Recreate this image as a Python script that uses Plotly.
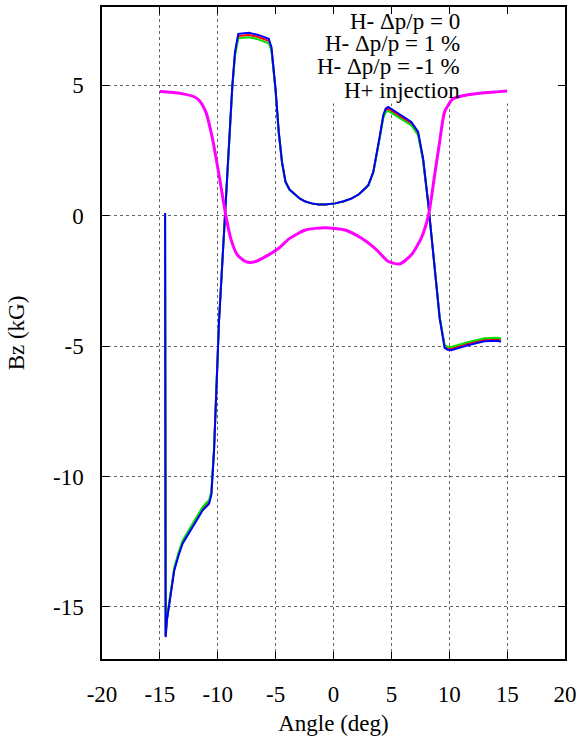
import plotly.graph_objects as go

# ---- data ----
angle_hm = [-14.55, -14.50, -14.40, -14.19, -14.00, -13.76, -13.40, -13.04, -12.60, -12.18,
            -11.75, -11.32, -11.00, -10.75, -10.55, -10.45, -10.32, -9.89, -9.37, -8.74,
            -8.51, -8.23, -7.31, -6.50, -5.59, -5.36, -5.01, -4.73, -4.45, -4.15,
            -3.80, -3.29, -2.90, -2.43, -1.90, -1.29, -0.71, 0.14, 0.90, 1.58,
            2.20, 2.72, 3.01, 3.44, 3.73, 4.01, 4.30, 4.50, 4.73, 5.59,
            6.73, 7.31, 7.74, 8.17, 8.60, 9.17, 9.60, 9.85, 10.17, 11.60,
            13.04, 14.19, 14.47]

bz_dp0 = [0.10, -16.12, -15.50, -14.82, -14.25, -13.56, -13.00, -12.53, -12.20, -11.90,
          -11.57, -11.25, -11.09, -10.99, -10.65, -10.06, -8.97, -4.03, 0.00, 4.95,
          6.20, 6.89, 6.93, 6.85, 6.70, 6.40, 4.84, 3.20, 2.05, 1.30,
          1.00, 0.79, 0.65, 0.54, 0.47, 0.43, 0.43, 0.47, 0.55, 0.66,
          0.82, 1.04, 1.17, 1.67, 2.30, 3.05, 3.80, 4.03, 4.10, 3.84,
          3.53, 3.15, 2.15, 0.53, -1.37, -3.90, -5.02, -5.09, -5.10, -4.91,
          -4.76, -4.74, -4.78]

bz_dp_plus1 = [0.10, -16.08, -15.45, -14.77, -14.20, -13.50, -12.94, -12.46, -12.13, -11.83,
               -11.50, -11.18, -11.02, -10.91, -10.58, -10.00, -8.93, -4.00, 0.00, 4.90,
               6.12, 6.80, 6.84, 6.76, 6.61, 6.33, 4.80, 3.18, 2.04, 1.29,
               0.99, 0.78, 0.65, 0.54, 0.47, 0.43, 0.43, 0.47, 0.55, 0.66,
               0.82, 1.03, 1.16, 1.65, 2.27, 3.01, 3.74, 3.96, 4.02, 3.77,
               3.46, 3.08, 2.11, 0.52, -1.35, -3.86, -4.96, -5.03, -5.04, -4.85,
               -4.70, -4.68, -4.72]

bz_dp_minus1 = [0.10, -16.16, -15.55, -14.87, -14.30, -13.61, -13.05, -12.58, -12.25, -11.96,
                -11.63, -11.31, -11.15, -11.05, -10.70, -10.10, -9.00, -4.05, 0.00, 5.00,
                6.27, 6.97, 7.01, 6.93, 6.78, 6.46, 4.87, 3.21, 2.06, 1.30,
                1.00, 0.79, 0.65, 0.54, 0.47, 0.43, 0.43, 0.47, 0.55, 0.66,
                0.82, 1.04, 1.17, 1.68, 2.32, 3.08, 3.85, 4.10, 4.17, 3.91,
                3.59, 3.21, 2.19, 0.54, -1.38, -3.93, -5.07, -5.14, -5.16, -4.97,
                -4.82, -4.80, -4.84]

angle_hp = [-15.0, -14.0, -13.0, -12.0, -11.61, -11.03, -10.46, -9.89, -9.31, -8.88,
            -8.31, -7.59, -6.88, -5.87, -4.73, -3.87, -2.43, -0.71, 1.00, 2.43,
            3.72, 4.73, 5.73, 6.73, 7.59, 8.20, 8.74, 9.17, 9.60, 10.32,
            11.32, 13.04, 15.0]
bz_hp = [4.76, 4.73, 4.67, 4.55, 4.42, 3.98, 2.96, 1.56, 0.03, -0.87,
         -1.50, -1.76, -1.78, -1.57, -1.25, -0.90, -0.55, -0.46, -0.55, -0.87,
         -1.31, -1.76, -1.85, -1.50, -0.85, 0.00, 1.56, 2.83, 3.98, 4.48,
         4.61, 4.71, 4.78]

series_names = ["H- \u0394p/p = 0", "H- \u0394p/p = 1 %", "H- \u0394p/p = -1 %", "H+ injection"]
x_ticks = [-20, -15, -10, -5, 0, 5, 10, 15, 20]
y_ticks = [-15, -10, -5, 0, 5]

FONT = "Liberation Serif"

fig = go.Figure()
fig.add_trace(go.Scatter(x=angle_hm, y=bz_dp0, mode="lines", name=series_names[0],
                         line=dict(color="#ff0000", width=2)))
fig.add_trace(go.Scatter(x=angle_hm, y=bz_dp_plus1, mode="lines", name=series_names[1],
                         line=dict(color="#00e000", width=2)))
fig.add_trace(go.Scatter(x=angle_hm, y=bz_dp_minus1, mode="lines", name=series_names[2],
                         line=dict(color="#0000ff", width=2)))
fig.add_trace(go.Scatter(x=angle_hp, y=bz_hp, mode="lines", name=series_names[3],
                         line=dict(color="#ff00ff", width=3, shape="spline", smoothing=0.6)))

# white key box hiding grid
fig.add_shape(type="rect", xref="x", yref="y", x0=-6.1, x1=20, y0=4.3, y1=8,
              fillcolor="white", line=dict(width=0), layer="between")

legend_y = [7.46, 6.60, 5.70, 4.80]
for name, yy in zip(series_names, legend_y):
    fig.add_annotation(x=11.1, y=yy, xref="x", yref="y", text=name, showarrow=False,
                       xanchor="right", yanchor="middle",
                       font=dict(family=FONT, size=23, color="black"))

axis_common = dict(showline=True, linecolor="black", linewidth=1.5, mirror="ticks",
                   ticks="inside", ticklen=7, tickcolor="black", tickwidth=1,
                   showgrid=True, gridcolor="#666666", griddash="dot", gridwidth=1,
                   zeroline=False, tickfont=dict(family=FONT, size=23, color="black"))

fig.update_xaxes(range=[-20, 20], tickvals=x_ticks, ticktext=[str(v) for v in x_ticks],
                 title=dict(text="Angle (deg)", font=dict(family=FONT, size=23, color="black"),
                            standoff=9),
                 ticklabelstandoff=14, **axis_common)
fig.update_yaxes(range=[-17, 8], tickvals=y_ticks, ticktext=[str(v) for v in y_ticks],
                 title=dict(text="Bz (kG)", font=dict(family=FONT, size=23, color="black"),
                            standoff=22),
                 ticklabelstandoff=12, **axis_common)

fig.update_layout(width=582, height=738, margin=dict(l=102, r=15, t=5, b=79),
                  plot_bgcolor="white", paper_bgcolor="white", showlegend=False,
                  font=dict(family=FONT, size=23, color="black"))

fig.write_html("out.html", config={"displayModeBar": False},
               post_script="document.body.style.margin='0';")
